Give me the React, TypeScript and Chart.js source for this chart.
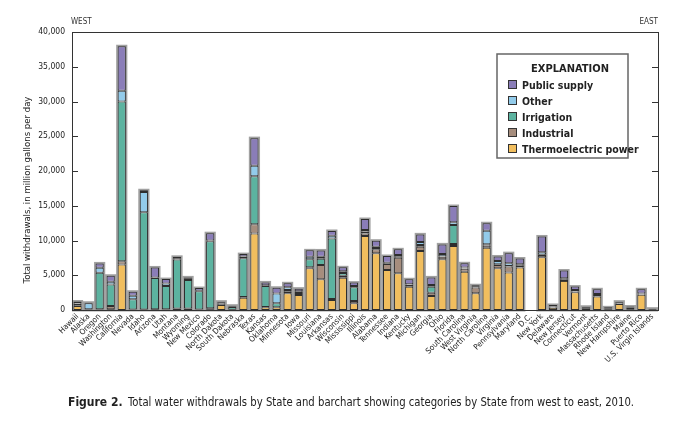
import { useEffect, useRef } from "react";
import { Chart, registerables } from "chart.js";
Chart.register(...registerables);

const FONT = "'Liberation Sans Narrow', 'DejaVu Sans Condensed', 'Arial Narrow', sans-serif";

const states = [
  "Hawaii", "Alaska", "Oregon", "Washington", "California", "Nevada", "Idaho", "Arizona", "Utah",
  "Montana", "Wyoming", "New Mexico", "Colorado", "North Dakota", "South Dakota", "Nebraska", "Texas",
  "Kansas", "Oklahoma", "Minnesota", "Iowa", "Missouri", "Louisiana", "Arkansas", "Wisconsin",
  "Mississippi", "Illinois", "Alabama", "Tennessee", "Indiana", "Kentucky", "Michigan", "Georgia",
  "Ohio", "Florida", "South Carolina", "West Virginia", "North Carolina", "Virginia", "Pennsylvania",
  "Maryland", "D.C.", "New York", "Delaware", "New Jersey", "Connecticut", "Vermont", "Massachusetts",
  "Rhode Island", "New Hampshire", "Maine", "Puerto Rico", "U.S. Virgin Islands",
];

const thermoelectric = [
  560, 40, 20, 100, 6550, 50, 0, 100, 60, 150, 200, 50, 120, 720, 10, 1770, 11000,
  380, 380, 2400, 2160, 6000, 4410, 1440, 4650, 960, 10650, 8150, 5760, 5280, 3360, 8490, 2010,
  7290, 9210, 5520, 2400, 8970, 6000, 5390, 6110, 0, 7600, 340, 4190, 2550, 240, 1930,
  100, 870, 100, 2210, 120,
];
const industrial = [
  40, 60, 80, 470, 480, 20, 60, 20, 40, 50, 20, 20, 130, 30, 10, 100, 1340,
  50, 30, 240, 300, 140, 2060, 150, 290, 340, 360, 580, 860, 2250, 250, 620, 480,
  380, 290, 400, 820, 300, 480, 870, 250, 0, 300, 60, 150, 100, 20, 100,
  20, 40, 220, 20, 5,
];
const irrigation = [
  300, 5, 5260, 3110, 22970, 1460, 14010, 4470, 3350, 7070, 4080, 2610, 9650, 200, 410, 5590, 6890,
  3020, 550, 240, 130, 1150, 900, 8700, 380, 1970, 300, 190, 100, 200, 50, 240, 860,
  80, 2730, 100, 10, 180, 100, 60, 100, 1, 60, 120, 130, 40, 5, 130,
  30, 10, 20, 80, 0,
];
const other = [
  80, 860, 720, 390, 1530, 530, 2920, 100, 380, 180, 200, 100, 100, 150, 80, 250, 1530,
  100, 1430, 380, 100, 380, 290, 400, 240, 190, 200, 190, 90, 180, 40, 430, 240,
  300, 380, 80, 130, 1970, 480, 420, 130, 2, 360, 20, 100, 200, 70, 150,
  50, 120, 60, 50, 5,
];
const publicSupply = [
  240, 80, 620, 860, 6420, 570, 240, 1430, 620, 200, 190, 380, 1050, 100, 110, 330, 3970,
  420, 810, 580, 380, 910, 910, 680, 580, 480, 1580, 860, 960, 820, 720, 1100, 1100,
  1390, 2350, 620, 200, 1060, 640, 1440, 820, 5, 2260, 180, 1110, 480, 130, 670,
  180, 160, 100, 620, 60,
];

const seriesNames = ["Thermoelectric power", "Industrial", "Irrigation", "Other", "Public supply"];
const seriesColors = ["#F1BE5E", "#A68D7D", "#5CB3A0", "#92CBEA", "#8A7DB8"];
const yTickValues = [0, 5000, 10000, 15000, 20000, 25000, 30000, 35000, 40000];

const caption = "Total water withdrawals by State and barchart showing categories by State from west to east, 2010.";

export default function App() {
  const ref = useRef<HTMLCanvasElement>(null);
  useEffect(() => {
    document.body.style.margin = "0";
    const canvas = ref.current!;
    const values = [thermoelectric, industrial, irrigation, other, publicSupply];

    const halo = {
      id: "halo",
      beforeDatasetsDraw(chart: any) {
        const { ctx } = chart;
        const bottomMeta = chart.getDatasetMeta(0);
        const topMeta = chart.getDatasetMeta(values.length - 1);
        ctx.save();
        ctx.strokeStyle = "rgba(130,130,130,0.75)";
        ctx.lineWidth = 3;
        bottomMeta.data.forEach((bar: any, i: number) => {
          const tb = topMeta.data[i];
          const w = bar.width;
          const x0 = bar.x - w / 2;
          const yTop = tb.y;
          const yBase = bar.base;
          if (yBase - yTop < 0.5) return;
          ctx.strokeRect(x0, yTop, w, yBase - yTop);
        });
        ctx.restore();
      },
    };

    const decor = {
      id: "decor",
      afterDraw(chart: any) {
        const { ctx, chartArea } = chart;
        const { left, right, top, bottom } = chartArea;
        const y = chart.scales.y;
        ctx.save();
        ctx.strokeStyle = "#333";
        ctx.lineWidth = 1;
        ctx.strokeRect(Math.round(left) + 0.5, Math.round(top) + 0.5, Math.round(right - left), Math.round(bottom - top));
        ctx.beginPath();
        for (const v of yTickValues) {
          const py = Math.round(y.getPixelForValue(v)) + 0.5;
          ctx.moveTo(left, py);
          ctx.lineTo(left + 6, py);
          ctx.moveTo(right, py);
          ctx.lineTo(right - 6, py);
        }
        ctx.stroke();

        ctx.fillStyle = "#333";
        ctx.font = `8px ${FONT}`;
        ctx.textBaseline = "alphabetic";
        ctx.textAlign = "left";
        ctx.fillText("WEST", left - 1, 24);
        ctx.textAlign = "right";
        ctx.fillText("EAST", right, 24);

        // y title
        ctx.save();
        ctx.translate(30, 190);
        ctx.rotate(-Math.PI / 2);
        ctx.textAlign = "center";
        ctx.font = `9.5px ${FONT}`;
        ctx.fillStyle = "#222";
        ctx.fillText("Total withdrawals, in million gallons per day", 0, 0);
        ctx.restore();

        // legend
        const bx = 497, by = 54, bw = 131, bh = 104;
        ctx.fillStyle = "#fff";
        ctx.fillRect(bx, by, bw, bh);
        ctx.strokeStyle = "#666";
        ctx.lineWidth = 1.5;
        ctx.strokeRect(bx, by, bw, bh);
        ctx.fillStyle = "#222";
        ctx.textAlign = "center";
        ctx.font = `bold 11px ${FONT}`;
        ctx.fillText("EXPLANATION", 570, 72);
        ctx.textAlign = "left";
        ctx.font = `bold 10.5px ${FONT}`;
        ctx.lineWidth = 1;
        ctx.strokeStyle = "#333";
        for (let i = 0; i < 5; i++) {
          const si = 4 - i;
          const ry = 85 + i * 16;
          ctx.fillStyle = seriesColors[si];
          ctx.fillRect(508.5, ry - 4.5, 8, 8);
          ctx.strokeRect(508.5, ry - 4.5, 8, 8);
          ctx.fillStyle = "#222";
          ctx.fillText(seriesNames[si], 522, ry + 3.5);
        }

        // caption
        ctx.fillStyle = "#222";
        ctx.font = `bold 12px ${FONT}`;
        ctx.fillText("Figure 2.", 68, 406);
        ctx.font = `12px ${FONT}`;
        ctx.fillText(caption, 128, 406, 506);
        ctx.restore();
      },
    };

    const chart = new Chart(canvas, {
      type: "bar",
      data: {
        labels: states,
        datasets: seriesNames.map((name, i) => ({
          label: name,
          data: values[i],
          backgroundColor: seriesColors[i],
          borderColor: "#2e2e2e",
          borderWidth: 1,
          borderSkipped: false,
          categoryPercentage: 1,
          barPercentage: 0.74,
        })),
      },
      options: {
        animation: false,
        responsive: false,
        layout: { padding: { top: 32, right: 35, left: 0, bottom: 0 } },
        plugins: { legend: { display: false }, tooltip: { enabled: false } },
        scales: {
          x: {
            stacked: true,
            grid: { display: false, drawTicks: false },
            border: { display: true, color: "#333" },
            ticks: {
              autoSkip: false,
              maxRotation: 45,
              minRotation: 45,
              padding: 2,
              color: "#222",
              font: { family: FONT, size: 8 },
            },
            afterFit: (s: any) => { s.height = 123; },
          },
          y: {
            stacked: true,
            min: 0,
            max: 40000,
            grid: { display: false, drawTicks: false },
            border: { display: true, color: "#333" },
            ticks: {
              stepSize: 5000,
              padding: 7,
              color: "#222",
              font: { family: FONT, size: 8.5 },
              callback: (v: any) => Number(v).toLocaleString("en-US"),
            },
            afterFit: (s: any) => { s.width = 72; },
          },
        },
      },
      plugins: [halo, decor],
    });
    return () => chart.destroy();
  }, []);
  return <canvas ref={ref} width={693} height={433} style={{ display: "block" }} />;
}
